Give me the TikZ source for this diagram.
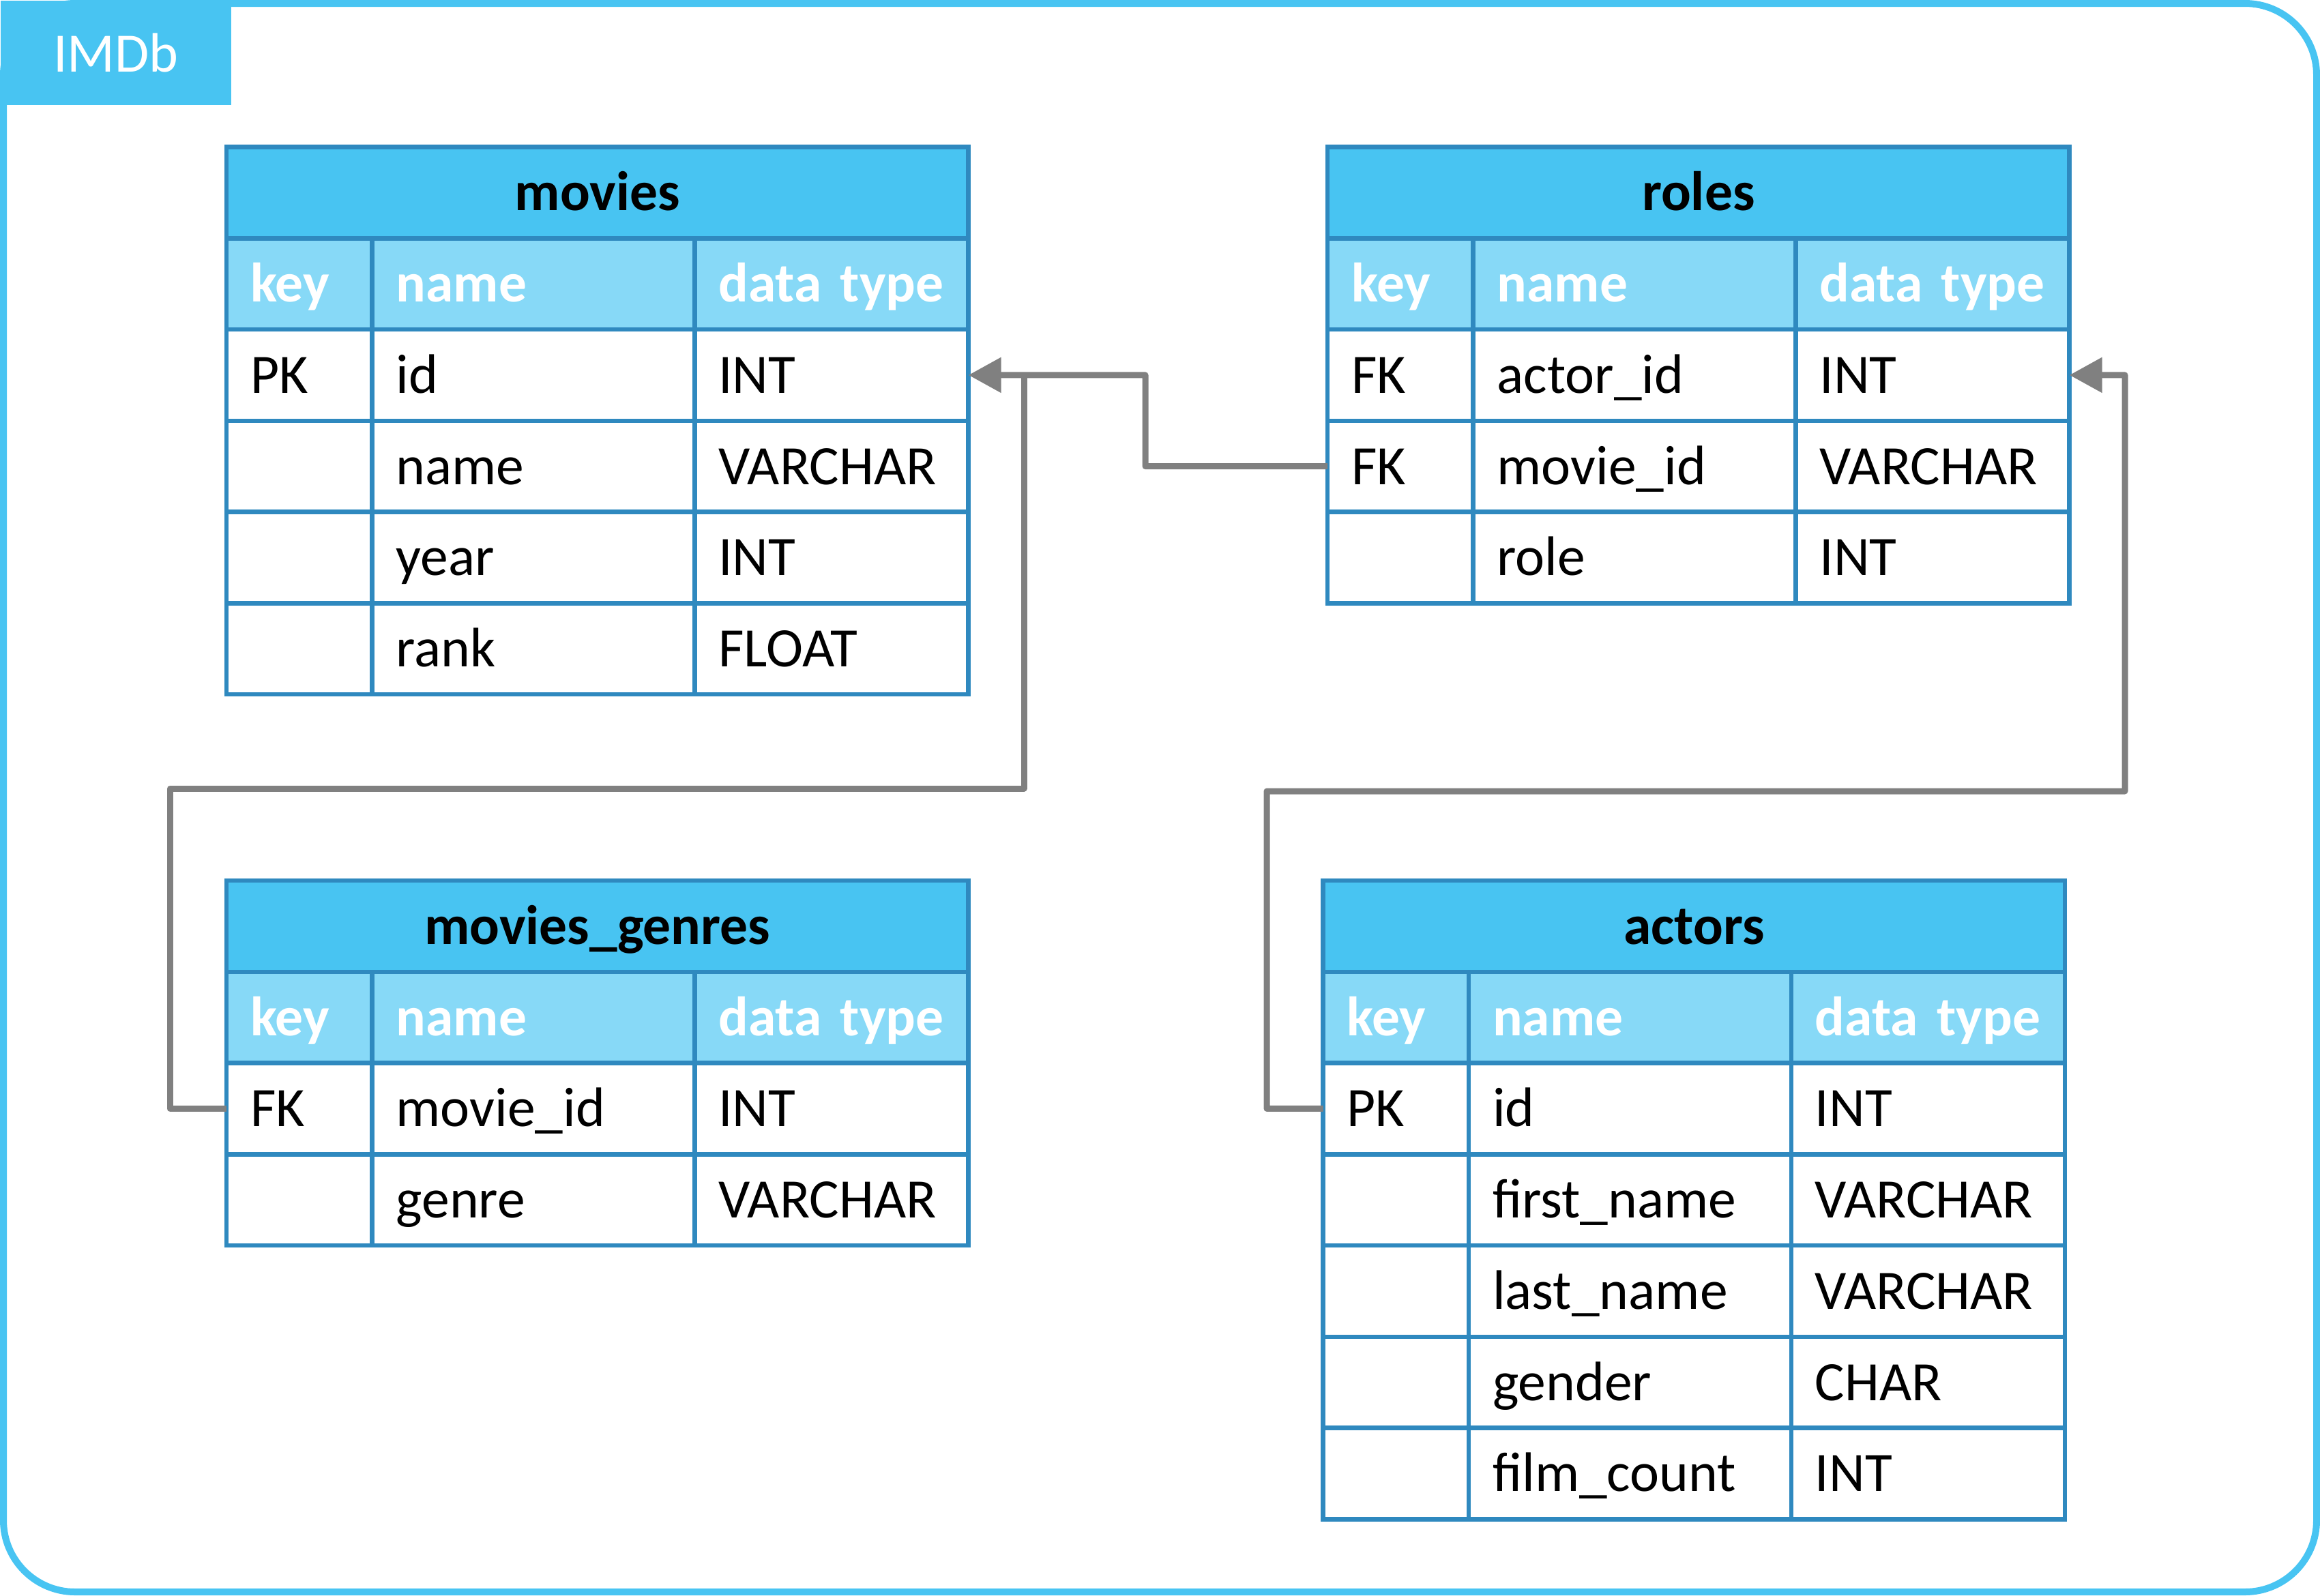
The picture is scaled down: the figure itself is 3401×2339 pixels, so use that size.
\documentclass[tikz,border=0pt]{standalone}
\usepackage{fontspec}
\setmainfont{Carlito}
\usetikzlibrary{arrows.meta}
\definecolor{titleblue}{RGB}{72,196,242}
\definecolor{headblue}{RGB}{135,217,247}
\definecolor{lineblue}{RGB}{47,137,191}
\definecolor{linkgray}{RGB}{128,128,128}
\def\cellfont{\fontsize{23.2}{27.5}\selectfont}
\def\dbrow#1#2#3#4#5#6#7{%
  \node [keycell,#4] at (#2,#3) (#1 key) {#5};
  \node [namecell,#4] at (#1 key.north east) (#1 name) {#6};
  \node [typecell,#4] at (#1 name.north east) (#1 type) {#7};}
\tikzset{
  cell/.style={draw=lineblue, line width=1.85pt, anchor=north west, outer sep=0pt,
    inner ysep=0pt, inner xsep=0.35cm, minimum height=1.3375cm,
    text height=0.78cm, text depth=0.25cm, align=left, font=\cellfont},
  keycell/.style={cell, text width=1.435cm},
  namecell/.style={cell, text width=4.025cm},
  typecell/.style={cell, text width=3.31cm},
  titlecell/.style={cell, fill=titleblue, text width=10.17cm, align=center, font=\cellfont\bfseries},
  headcell/.style={fill=headblue, text=white, font=\cellfont\bfseries},
  link/.style={draw=linkgray, line width=0.09cm, line join=round},
  tip/.style={-{Triangle[length=0.48cm,width=0.5cm]}},
}

\begin{document}
\begin{tikzpicture}[x=0.01cm, y=-0.01cm]
\useasboundingbox (0,0) rectangle (3401,2339);
\draw [draw=titleblue, line width=0.1cm, rounded corners=1.05cm] (5,5) rectangle (3396,2334);
\node [anchor=north west, fill=titleblue, minimum width=3.38cm, minimum height=1.53cm,
  inner sep=0pt, text=white, font=\cellfont] at (0,0) (imdb) {IMDb};
%
% movies
\node [titlecell] at (332,215.5) (movies) {movies};
\dbrow{mv head}{332}{349.25}{headcell}{key}{name}{data type}
\dbrow{mv id}{332}{483}{}{PK}{id}{INT}
\dbrow{mv name}{332}{616.75}{}{}{name}{VARCHAR}
\dbrow{mv year}{332}{750.5}{}{}{year}{INT}
\dbrow{mv rank}{332}{884.25}{}{}{rank}{FLOAT}
%
% roles
\node [titlecell] at (1946,215.5) (roles) {roles};
\dbrow{rl head}{1946}{349.25}{headcell}{key}{name}{data type}
\dbrow{rl actor}{1946}{483}{}{FK}{actor\_id}{INT}
\dbrow{rl movie}{1946}{616.75}{}{FK}{movie\_id}{VARCHAR}
\dbrow{rl role}{1946}{750.5}{}{}{role}{INT}
%
% movies_genres
\node [titlecell] at (332,1291) (genres) {movies\_genres};
\dbrow{gn head}{332}{1424.75}{headcell}{key}{name}{data type}
\dbrow{gn movie}{332}{1558.5}{}{FK}{movie\_id}{INT}
\dbrow{gn genre}{332}{1692.25}{}{}{genre}{VARCHAR}
%
% actors
\node [titlecell] at (1939.5,1291) (actors) {actors};
\dbrow{ac head}{1939.5}{1424.75}{headcell}{key}{name}{data type}
\dbrow{ac id}{1939.5}{1558.5}{}{PK}{id}{INT}
\dbrow{ac first}{1939.5}{1692.25}{}{}{first\_name}{VARCHAR}
\dbrow{ac last}{1939.5}{1826}{}{}{last\_name}{VARCHAR}
\dbrow{ac gender}{1939.5}{1959.75}{}{}{gender}{CHAR}
\dbrow{ac count}{1939.5}{2093.5}{}{}{film\_count}{INT}
%
% links
\coordinate (rl bend) at (1679,549.9);
\coordinate (gn bend) at (249,1156);
\coordinate (gn join) at (1501,549.9);
\coordinate (ac bend) at (1857,1160);
\coordinate (ac up) at (3115,549.9);
\draw [link] (gn movie key.west) -| (gn bend) -| (gn join);
\draw [link,tip] (rl movie key.west) -| (rl bend) -- (mv id type.east);
\draw [link,tip] (ac id key.west) -| (ac bend) -| (ac up) -- (rl actor type.east);
\end{tikzpicture}
\end{document}
